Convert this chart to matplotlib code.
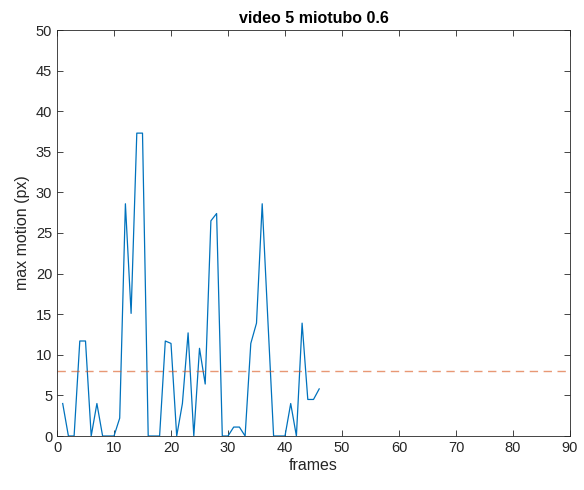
import numpy as np
import matplotlib.pyplot as plt

plt.rcParams['font.family'] = ['Liberation Sans', 'DejaVu Sans']

frames = list(range(1, 47))
max_motion = [4.0, 0, 0, 11.7, 11.7, 0, 4.0, 0, 0, 0,
              2.2, 28.6, 15.1, 37.3, 37.3, 0, 0, 0, 11.7, 11.4,
              0, 4.0, 12.7, 0, 10.8, 6.4, 26.5, 27.4, 0, 0,
              1.1, 1.1, 0, 11.4, 13.9, 28.6, 14.2, 0, 0, 0,
              4.0, 0, 13.9, 4.5, 4.5, 5.8]
threshold = 8
title = 'video 5 miotubo 0.6'
x_ticks = list(range(0, 91, 10))
y_ticks = list(range(0, 51, 5))

fig = plt.figure(figsize=(5.84, 4.90), dpi=100)
ax = fig.add_axes([57 / 584, 54 / 490, 513 / 584, 406 / 490])

ax.plot(frames, max_motion, color='#0072BD', lw=0.9)
ax.axhline(threshold, color=(0.85, 0.325, 0.098), alpha=0.6, lw=1.0,
           linestyle=(0, (6, 4)))

ax.set_xlim(0, 90)
ax.set_ylim(0, 50)
ax.set_xticks(x_ticks)
ax.set_yticks(y_ticks)

gray = '#262626'
ax.tick_params(direction='in', top=True, right=True, length=4,
               width=0.6, colors=gray, labelsize=10.5)
for s in ax.spines.values():
    s.set_linewidth(0.6)
    s.set_color(gray)

ax.set_xlabel('frames', fontsize=11.5, color=gray, labelpad=2)
ax.set_ylabel('max motion (px)', fontsize=11.5, color=gray, labelpad=4)
ax.set_title(title, fontsize=11.5, fontweight='bold', color='black', pad=5)

fig.savefig('out.png', dpi=100)
